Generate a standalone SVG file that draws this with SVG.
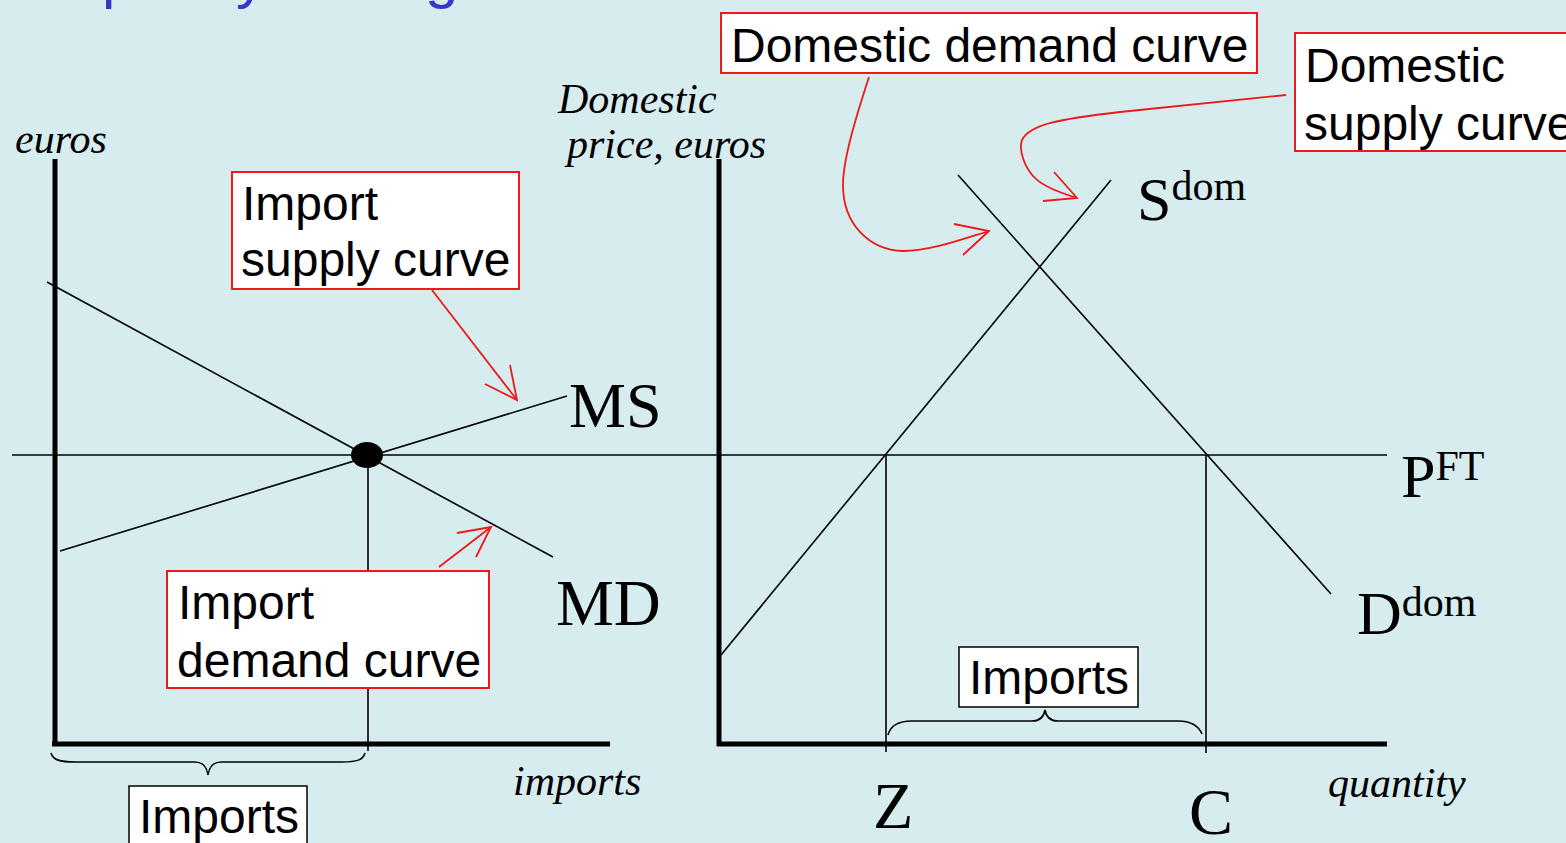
<svg xmlns="http://www.w3.org/2000/svg" width="1566" height="843" viewBox="0 0 1566 843">
<style>
.ax{stroke:#000;stroke-width:5;fill:none}
.ln{stroke:#000;stroke-width:1.6;fill:none}
.red{stroke:#f01818;stroke-width:1.8;fill:none}
.rbox{fill:#fff;stroke:#f01818;stroke-width:2}
.bbox{fill:#fff;stroke:#000;stroke-width:1.5}
.sans{font-family:"Liberation Sans",Arial,sans-serif;font-size:48px;fill:#000}
.ser{font-family:"Liberation Serif","Times New Roman",serif;fill:#000}
.it{font-family:"Liberation Serif","Times New Roman",serif;font-style:italic;font-size:42px;fill:#000}
.title{font-family:"Liberation Sans",Arial,sans-serif;font-size:60px;fill:#3a35c8}
</style>
<rect width="1566" height="843" fill="#d7ecef"/>
<g id="title-fragments">
<text class="title" x="102" y="-3">p</text>
<text class="title" x="236" y="-3">y</text>
<text class="title" x="425" y="-3">g</text>
</g>
<g id="connectors">
<line class="ax" x1="55" y1="159" x2="55" y2="746"/>
<line class="ax" x1="52" y1="744" x2="610" y2="744"/>
<line class="ax" x1="719" y1="159" x2="719" y2="746"/>
<line class="ax" x1="717" y1="744" x2="1387" y2="744"/>
<line class="ln" x1="12" y1="455" x2="1387" y2="455"/>
<line class="ln" x1="47" y1="282" x2="553" y2="557"/>
<line class="ln" x1="60" y1="551" x2="567" y2="396"/>
<line class="ln" x1="368" y1="455" x2="368" y2="751"/>
<line class="ln" x1="721" y1="655" x2="1111" y2="180"/>
<line class="ln" x1="958" y1="175" x2="1331" y2="594"/>
<line class="ln" x1="886" y1="455" x2="886" y2="752"/>
<line class="ln" x1="1206" y1="455" x2="1206" y2="753"/>
<path class="ln" d="M51,753 C53,760 60,762 75,762 L195,762 C203,762 207,768 208,775 C209,768 213,762 221,762 L342,762 C357,762 363,760 365,753"/>
<path class="ln" d="M888,735 C890,727 897,721 912,721 L1032,721 C1040,721 1044,716 1045,710 C1046,716 1050,721 1058,721 L1178,721 C1193,721 1199,727 1202,734"/>
<line class="red" x1="432" y1="290" x2="517" y2="400"/>
<polyline class="red" points="485,384 517,400 510,365"/>
<line class="red" x1="439" y1="567" x2="491" y2="527"/>
<polyline class="red" points="457,533 491,527 476,557"/>
<path class="red" d="M869,77 C855,120 843,160 843,185 C843,225 870,250 903,251 C930,251 960,240 989,231"/>
<polyline class="red" points="954,224 989,231 963,255"/>
<path class="red" d="M1286,95 L1120,112 C1060,119 1030,124 1022,140 C1018,152 1026,168 1033,176 C1042,186 1058,192 1077,198"/>
<polyline class="red" points="1043,201 1077,198 1054,172"/>
</g>
<g id="equilibrium-dot"><ellipse cx="367" cy="455" rx="16" ry="13" fill="#000"/></g>
<g id="axis-labels">
<text class="it" x="15" y="153" font-size="43">euros</text>
<text class="it" x="513" y="795">imports</text>
<text class="it" x="558" y="113">Domestic</text>
<text class="it" x="567" y="158" font-size="43">price, euros</text>
<text class="it" x="1328" y="797">quantity</text>
</g>
<g id="curve-labels">
<text class="ser" x="569" y="427" font-size="64">MS</text>
<text class="ser" x="556" y="625" font-size="65">MD</text>
<text class="ser" x="1137" y="220" font-size="62">S<tspan font-size="42" dy="-20">dom</tspan></text>
<text class="ser" x="1357" y="634" font-size="62">D<tspan font-size="42" dy="-18">dom</tspan></text>
<text class="ser" x="1401" y="497" font-size="62">P<tspan font-size="42" dy="-17">FT</tspan></text>
<text class="ser" x="873" y="828" font-size="66">Z</text>
<text class="ser" x="1189" y="834" font-size="66">C</text>
</g>
<g id="import-supply-box">
<rect class="rbox" x="232" y="172" width="287" height="117"/>
<text class="sans" x="242" y="220">Import</text>
<text class="sans" x="241" y="276">supply curve</text>
</g>
<g id="import-demand-box">
<rect class="rbox" x="167" y="571" width="322" height="117"/>
<text class="sans" x="178" y="619">Import</text>
<text class="sans" x="177" y="677">demand curve</text>
</g>
<g id="domestic-demand-box">
<rect class="rbox" x="721" y="13" width="536" height="60"/>
<text class="sans" x="731" y="62">Domestic demand curve</text>
</g>
<g id="domestic-supply-box">
<rect class="rbox" x="1295" y="33" width="300" height="118"/>
<text class="sans" x="1305" y="82">Domestic</text>
<text class="sans" x="1304" y="140">supply curve</text>
</g>
<g id="imports-left">
<rect class="bbox" x="129" y="786" width="178" height="70"/>
<text class="sans" x="139" y="833">Imports</text>
</g>
<g id="imports-right">
<rect class="bbox" x="959" y="647" width="179" height="60"/>
<text class="sans" x="969" y="694">Imports</text>
</g>
</svg>
